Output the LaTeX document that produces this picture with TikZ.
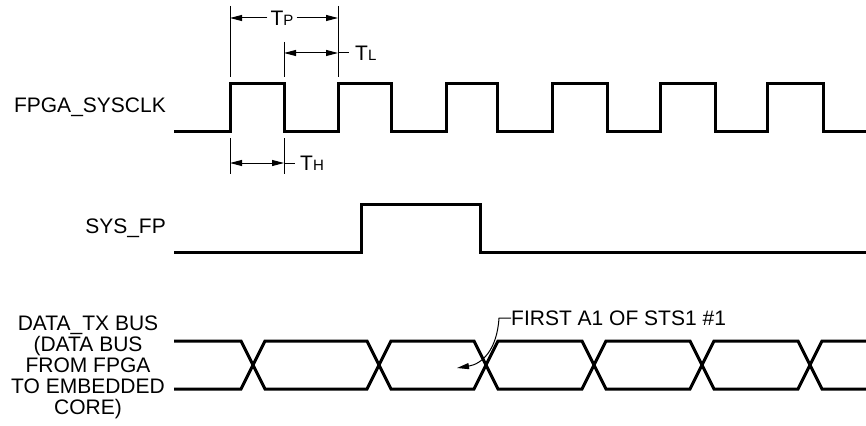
\documentclass[tikz,border=0pt]{standalone}
\usepackage{fontspec}
\setmainfont{Liberation Sans}
\usetikzlibrary{arrows.meta}

\begin{document}
\begin{tikzpicture}
[every node/.style={inner sep=0pt, font=\fontsize{21}{21}\selectfont},
 sig/.style={line width=3pt, line join=miter},
 dim/.style={line width=1pt},
 tipdim/.style={line width=1pt, {Triangle[length=12pt,width=6pt]}-{Triangle[length=12pt,width=6pt]}},
 tipone/.style={line width=1pt, -{Triangle[length=12pt,width=6pt]}}]
\useasboundingbox (0pt, 0pt) rectangle (866pt, -425pt);
\newcommand{\smallsub}[1]{{\fontsize{15}{15}\selectfont #1}}
% signal names
\node (clklbl) [anchor=east] at (166pt, -107pt) {FPGA\_SYSCLK};
\node (fplbl) [anchor=east] at (166pt, -228pt) {SYS\_FP};
\node (datalbl) [align=center, font=\fontsize{21}{21}\selectfont] at (88pt, -367pt) {DATA\_TX BUS\\(DATA BUS\\FROM FPGA\\TO EMBEDDED\\CORE)};
% waveforms
\draw [sig] (174pt, -131pt) -- (230pt, -131pt) -- (230pt, -84pt) -- (284pt, -84pt) -- (284pt, -131pt) -- (338pt, -131pt) -- (338pt, -84pt) -- (391pt, -84pt) -- (391pt, -131pt) -- (446pt, -131pt) -- (446pt, -84pt) -- (497pt, -84pt) -- (497pt, -131pt) -- (552pt, -131pt) -- (552pt, -84pt) -- (607pt, -84pt) -- (607pt, -131pt) -- (660pt, -131pt) -- (660pt, -84pt) -- (715pt, -84pt) -- (715pt, -131pt) -- (767pt, -131pt) -- (767pt, -84pt) -- (823pt, -84pt) -- (823pt, -131pt) -- (866pt, -131pt);
\draw [sig] (174pt, -252pt) -- (361pt, -252pt) -- (361pt, -204pt) -- (480pt, -204pt) -- (480pt, -252pt) -- (866pt, -252pt);
\draw [sig] (174pt, -341pt) -- (241pt, -341pt) -- (265pt, -389pt) -- (367pt, -389pt) -- (391pt, -341pt) -- (474pt, -341pt) -- (498pt, -389pt) -- (582pt, -389pt) -- (606pt, -341pt) -- (690pt, -341pt) -- (714pt, -389pt) -- (798pt, -389pt) -- (822pt, -341pt) -- (866pt, -341pt);
\draw [sig] (174pt, -389pt) -- (241pt, -389pt) -- (265pt, -341pt) -- (367pt, -341pt) -- (391pt, -389pt) -- (474pt, -389pt) -- (498pt, -341pt) -- (582pt, -341pt) -- (606pt, -389pt) -- (690pt, -389pt) -- (714pt, -341pt) -- (798pt, -341pt) -- (822pt, -389pt) -- (866pt, -389pt);
% extension lines
\draw [dim] (230pt, -6pt) -- (230pt, -77pt);
\draw [dim] (338pt, -6pt) -- (338pt, -77pt);
\draw [dim] (284pt, -42pt) -- (284pt, -77pt);
\draw [dim] (230pt, -138pt) -- (230pt, -174pt);
\draw [dim] (284pt, -138pt) -- (284pt, -174pt);
% timing labels
\node (tp) at (282pt, -18pt) {T\smallsub{P}};
\node (tl) [anchor=west] at (355pt, -53pt) {T\smallsub{L}};
\node (th) [anchor=west] at (300pt, -163pt) {T\smallsub{H}};
\coordinate (tpL) at (230pt, -18pt);
\coordinate (tpR) at (338pt, -18pt);
\coordinate (tlL) at (284pt, -53pt);
\coordinate (tlR) at (338pt, -53pt);
\coordinate (thL) at (230pt, -163pt);
\coordinate (thR) at (284pt, -163pt);
\draw [tipone] ([xshift=-3pt]tp.west) -- (tpL);
\draw [tipone] ([xshift=3pt]tp.east) -- (tpR);
\draw [tipdim] (tlL) -- (tlR);
\draw [dim] (tlR) -- ([xshift=-6pt]tl.west);
\draw [tipdim] (thL) -- (thR);
\draw [dim] (thR) -- ([xshift=-5pt]th.west);
% callout
\node (first) [anchor=west] at (511pt, -318pt) {FIRST A1 OF STS1 \#1};
\coordinate (firsttip) at (457pt, -368pt);
\draw [tipone] (first.west) -- (499pt, -318pt) .. controls (497pt, -350pt) and (482pt, -364pt) .. (firsttip);
\end{tikzpicture}
\end{document}
